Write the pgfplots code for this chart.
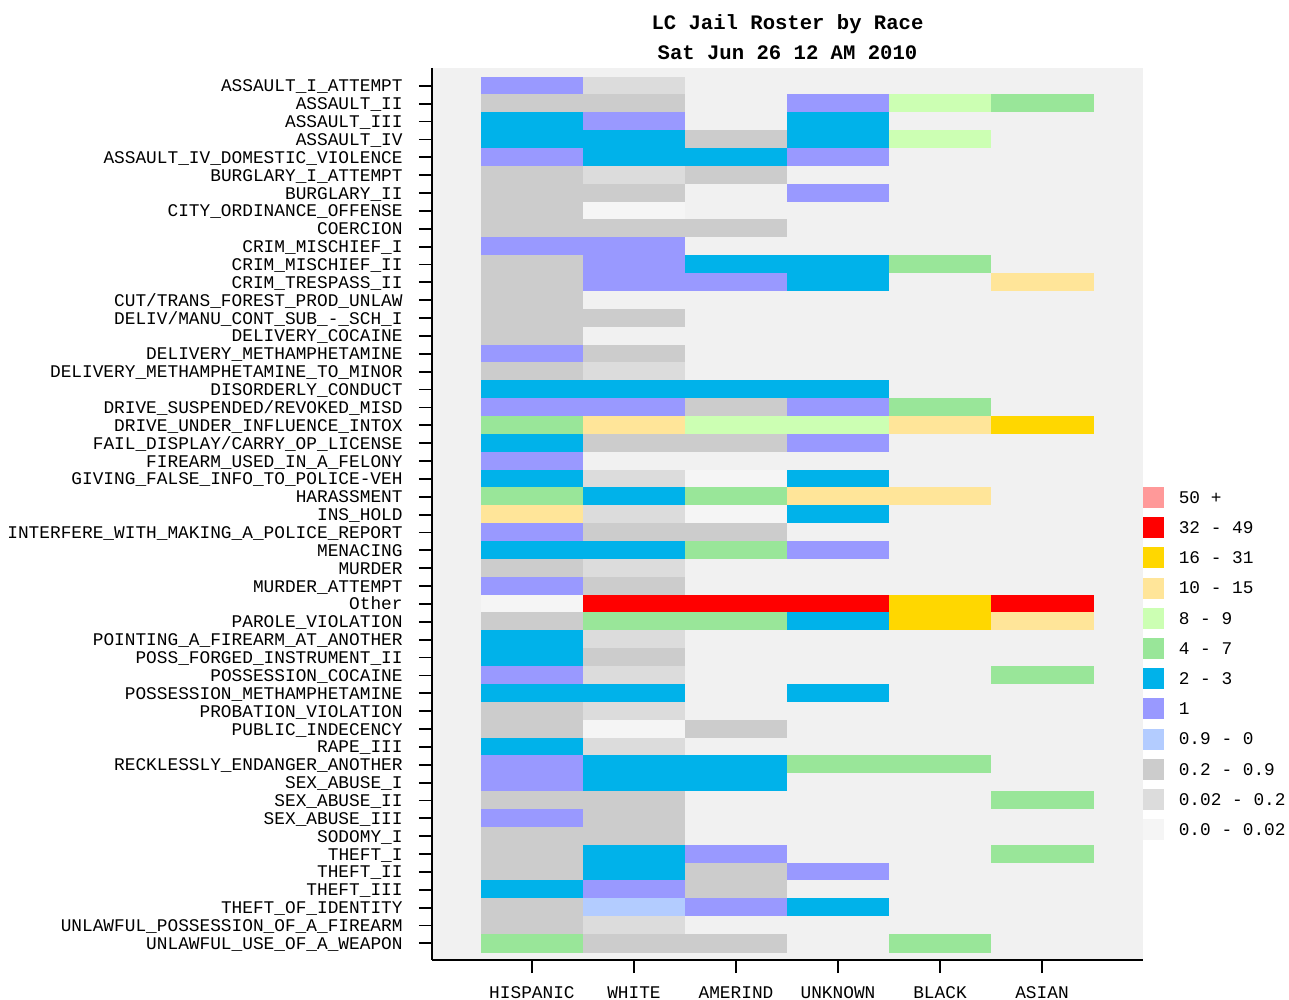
\documentclass[border=0pt]{standalone}
\usepackage{fontspec}
\setmainfont{Liberation Mono}
\usepackage{pgfplots}
\pgfplotsset{compat=1.18}

% panel and legend colours
\definecolor{panel}{RGB}{241,241,241}
\definecolor{cA}{RGB}{255,153,153}  % 50 +
\definecolor{cB}{RGB}{255,0,0}      % 32 - 49
\definecolor{cC}{RGB}{255,215,0}    % 16 - 31
\definecolor{cD}{RGB}{255,229,153}  % 10 - 15
\definecolor{cE}{RGB}{204,255,179}  % 8 - 9
\definecolor{cF}{RGB}{153,230,153}  % 4 - 7
\definecolor{cG}{RGB}{0,178,234}    % 2 - 3
\definecolor{cH}{RGB}{153,153,255}  % 1
\definecolor{cI}{RGB}{179,204,255}  % 0.9 - 0
\definecolor{cJ}{RGB}{204,204,204}  % 0.2 - 0.9
\definecolor{cK}{RGB}{220,220,220}  % 0.02 - 0.2
\definecolor{cL}{RGB}{245,245,245}  % 0.0 - 0.02

\begin{document}
\begin{tikzpicture}
\begin{axis}[
    at={(0,0)}, anchor=south west,
    scale only axis, width=355.5pt, height=446pt,
    xmin=-0.98, xmax=5.99, ymin=0, ymax=49.93, y dir=reverse,
    axis x line*=bottom, axis y line*=left,
    axis line style={line width=0.9pt, black},
    axis background/.style={fill=panel},
    tick align=outside, major tick length=6.5pt,
    tick style={line width=0.9pt, black},
    xtick={0,...,5},
    xticklabels={HISPANIC,WHITE,AMERIND,UNKNOWN,BLACK,ASIAN},
    ytick={1,...,49},
    yticklabels={ASSAULT\_I\_ATTEMPT, ASSAULT\_II, ASSAULT\_III, ASSAULT\_IV,
        ASSAULT\_IV\_DOMESTIC\_VIOLENCE, BURGLARY\_I\_ATTEMPT, BURGLARY\_II,
        CITY\_ORDINANCE\_OFFENSE, COERCION, CRIM\_MISCHIEF\_I, CRIM\_MISCHIEF\_II,
        CRIM\_TRESPASS\_II, CUT/TRANS\_FOREST\_PROD\_UNLAW, DELIV/MANU\_CONT\_SUB\_-\_SCH\_I,
        DELIVERY\_COCAINE, DELIVERY\_METHAMPHETAMINE, DELIVERY\_METHAMPHETAMINE\_TO\_MINOR,
        DISORDERLY\_CONDUCT, DRIVE\_SUSPENDED/REVOKED\_MISD, DRIVE\_UNDER\_INFLUENCE\_INTOX,
        FAIL\_DISPLAY/CARRY\_OP\_LICENSE, FIREARM\_USED\_IN\_A\_FELONY,
        GIVING\_FALSE\_INFO\_TO\_POLICE-VEH, HARASSMENT, INS\_HOLD,
        INTERFERE\_WITH\_MAKING\_A\_POLICE\_REPORT, MENACING, MURDER, MURDER\_ATTEMPT,
        Other, PAROLE\_VIOLATION, POINTING\_A\_FIREARM\_AT\_ANOTHER,
        POSS\_FORGED\_INSTRUMENT\_II, POSSESSION\_COCAINE, POSSESSION\_METHAMPHETAMINE,
        PROBATION\_VIOLATION, PUBLIC\_INDECENCY, RAPE\_III, RECKLESSLY\_ENDANGER\_ANOTHER,
        SEX\_ABUSE\_I, SEX\_ABUSE\_II, SEX\_ABUSE\_III, SODOMY\_I, THEFT\_I, THEFT\_II,
        THEFT\_III, THEFT\_OF\_IDENTITY, UNLAWFUL\_POSSESSION\_OF\_A\_FIREARM,
        UNLAWFUL\_USE\_OF\_A\_WEAPON},
    ticklabel style={font=\fontsize{8.9}{9}\selectfont},
    yticklabel style={inner sep=0pt, xshift=-8pt, text height=6pt, text depth=0pt},
    xticklabel style={inner sep=0pt, yshift=-6.5pt},
    title={LC Jail Roster by Race\\Sat Jun 26 12 AM 2010},
    title style={font=\fontsize{10.3}{15}\selectfont\bfseries, align=center,
        at={(0.5,1)}, anchor=south, inner sep=0pt, yshift=-2.3pt},
    colormap={jail}{rgb255(0cm)=(241,241,241); rgb255(1cm)=(245,245,245);
        rgb255(2cm)=(220,220,220); rgb255(3cm)=(204,204,204);
        rgb255(4cm)=(179,204,255); rgb255(5cm)=(153,153,255);
        rgb255(6cm)=(0,178,234); rgb255(7cm)=(153,230,153);
        rgb255(8cm)=(204,255,179); rgb255(9cm)=(255,229,153);
        rgb255(10cm)=(255,215,0); rgb255(11cm)=(255,0,0);
        rgb255(12cm)=(255,153,153)},
    colormap access=direct,
    legend style={at={(1,0.5303)}, anchor=north west, draw=none, fill=white,
        inner sep=0pt, outer sep=0pt, row sep=4.7pt, column sep=7.5pt,
        font=\fontsize{8.9}{9}\selectfont,
        nodes={inner sep=0pt, text height=6pt, text depth=0pt}},
    legend cell align=left,
    legend image code/.code={\fill[#1] (0pt,-5pt) rectangle (10pt,5pt);},
]
% colour class of each cell: 0 none, 1 0.0-0.02, 2 0.02-0.2, 3 0.2-0.9, 4 0.9-0,
% 5 one, 6 2-3, 7 4-7, 8 8-9, 9 10-15, 10 16-31, 11 32-49, 12 50+
\addplot[matrix plot*, mesh/cols=6, point meta=explicit, forget plot] coordinates {
(0,1)[5] (1,1)[2] (2,1)[0] (3,1)[0] (4,1)[0] (5,1)[0]
(0,2)[3] (1,2)[3] (2,2)[0] (3,2)[5] (4,2)[8] (5,2)[7]
(0,3)[6] (1,3)[5] (2,3)[0] (3,3)[6] (4,3)[0] (5,3)[0]
(0,4)[6] (1,4)[6] (2,4)[3] (3,4)[6] (4,4)[8] (5,4)[0]
(0,5)[5] (1,5)[6] (2,5)[6] (3,5)[5] (4,5)[0] (5,5)[0]
(0,6)[3] (1,6)[2] (2,6)[3] (3,6)[0] (4,6)[0] (5,6)[0]
(0,7)[3] (1,7)[3] (2,7)[0] (3,7)[5] (4,7)[0] (5,7)[0]
(0,8)[3] (1,8)[1] (2,8)[0] (3,8)[0] (4,8)[0] (5,8)[0]
(0,9)[3] (1,9)[3] (2,9)[3] (3,9)[0] (4,9)[0] (5,9)[0]
(0,10)[5] (1,10)[5] (2,10)[0] (3,10)[0] (4,10)[0] (5,10)[0]
(0,11)[3] (1,11)[5] (2,11)[6] (3,11)[6] (4,11)[7] (5,11)[0]
(0,12)[3] (1,12)[5] (2,12)[5] (3,12)[6] (4,12)[0] (5,12)[9]
(0,13)[3] (1,13)[0] (2,13)[0] (3,13)[0] (4,13)[0] (5,13)[0]
(0,14)[3] (1,14)[3] (2,14)[0] (3,14)[0] (4,14)[0] (5,14)[0]
(0,15)[3] (1,15)[0] (2,15)[0] (3,15)[0] (4,15)[0] (5,15)[0]
(0,16)[5] (1,16)[3] (2,16)[0] (3,16)[0] (4,16)[0] (5,16)[0]
(0,17)[3] (1,17)[2] (2,17)[0] (3,17)[0] (4,17)[0] (5,17)[0]
(0,18)[6] (1,18)[6] (2,18)[6] (3,18)[6] (4,18)[0] (5,18)[0]
(0,19)[5] (1,19)[5] (2,19)[3] (3,19)[5] (4,19)[7] (5,19)[0]
(0,20)[7] (1,20)[9] (2,20)[8] (3,20)[8] (4,20)[9] (5,20)[10]
(0,21)[6] (1,21)[3] (2,21)[3] (3,21)[5] (4,21)[0] (5,21)[0]
(0,22)[5] (1,22)[0] (2,22)[0] (3,22)[0] (4,22)[0] (5,22)[0]
(0,23)[6] (1,23)[2] (2,23)[1] (3,23)[6] (4,23)[0] (5,23)[0]
(0,24)[7] (1,24)[6] (2,24)[7] (3,24)[9] (4,24)[9] (5,24)[0]
(0,25)[9] (1,25)[2] (2,25)[1] (3,25)[6] (4,25)[0] (5,25)[0]
(0,26)[5] (1,26)[3] (2,26)[3] (3,26)[0] (4,26)[0] (5,26)[0]
(0,27)[6] (1,27)[6] (2,27)[7] (3,27)[5] (4,27)[0] (5,27)[0]
(0,28)[3] (1,28)[2] (2,28)[0] (3,28)[0] (4,28)[0] (5,28)[0]
(0,29)[5] (1,29)[3] (2,29)[0] (3,29)[0] (4,29)[0] (5,29)[0]
(0,30)[1] (1,30)[11] (2,30)[11] (3,30)[11] (4,30)[10] (5,30)[11]
(0,31)[3] (1,31)[7] (2,31)[7] (3,31)[6] (4,31)[10] (5,31)[9]
(0,32)[6] (1,32)[2] (2,32)[0] (3,32)[0] (4,32)[0] (5,32)[0]
(0,33)[6] (1,33)[3] (2,33)[0] (3,33)[0] (4,33)[0] (5,33)[0]
(0,34)[5] (1,34)[2] (2,34)[0] (3,34)[0] (4,34)[0] (5,34)[7]
(0,35)[6] (1,35)[6] (2,35)[0] (3,35)[6] (4,35)[0] (5,35)[0]
(0,36)[3] (1,36)[2] (2,36)[0] (3,36)[0] (4,36)[0] (5,36)[0]
(0,37)[3] (1,37)[1] (2,37)[3] (3,37)[0] (4,37)[0] (5,37)[0]
(0,38)[6] (1,38)[2] (2,38)[0] (3,38)[0] (4,38)[0] (5,38)[0]
(0,39)[5] (1,39)[6] (2,39)[6] (3,39)[7] (4,39)[7] (5,39)[0]
(0,40)[5] (1,40)[6] (2,40)[6] (3,40)[0] (4,40)[0] (5,40)[0]
(0,41)[3] (1,41)[3] (2,41)[0] (3,41)[0] (4,41)[0] (5,41)[7]
(0,42)[5] (1,42)[3] (2,42)[0] (3,42)[0] (4,42)[0] (5,42)[0]
(0,43)[3] (1,43)[3] (2,43)[0] (3,43)[0] (4,43)[0] (5,43)[0]
(0,44)[3] (1,44)[6] (2,44)[5] (3,44)[0] (4,44)[0] (5,44)[7]
(0,45)[3] (1,45)[6] (2,45)[3] (3,45)[5] (4,45)[0] (5,45)[0]
(0,46)[6] (1,46)[5] (2,46)[3] (3,46)[0] (4,46)[0] (5,46)[0]
(0,47)[3] (1,47)[4] (2,47)[5] (3,47)[6] (4,47)[0] (5,47)[0]
(0,48)[3] (1,48)[2] (2,48)[0] (3,48)[0] (4,48)[0] (5,48)[0]
(0,49)[7] (1,49)[3] (2,49)[3] (3,49)[0] (4,49)[7] (5,49)[0]
};
\addlegendimage{cA}\addlegendentry{50 +}
\addlegendimage{cB}\addlegendentry{32 - 49}
\addlegendimage{cC}\addlegendentry{16 - 31}
\addlegendimage{cD}\addlegendentry{10 - 15}
\addlegendimage{cE}\addlegendentry{8 - 9}
\addlegendimage{cF}\addlegendentry{4 - 7}
\addlegendimage{cG}\addlegendentry{2 - 3}
\addlegendimage{cH}\addlegendentry{1}
\addlegendimage{cI}\addlegendentry{0.9 - 0}
\addlegendimage{cJ}\addlegendentry{0.2 - 0.9}
\addlegendimage{cK}\addlegendentry{0.02 - 0.2}
\addlegendimage{cL}\addlegendentry{0.0 - 0.02}
\end{axis}
\pgfresetboundingbox
\path[use as bounding box] (-216pt,-20pt) rectangle (428.5pt,480pt);
\end{tikzpicture}
\end{document}
